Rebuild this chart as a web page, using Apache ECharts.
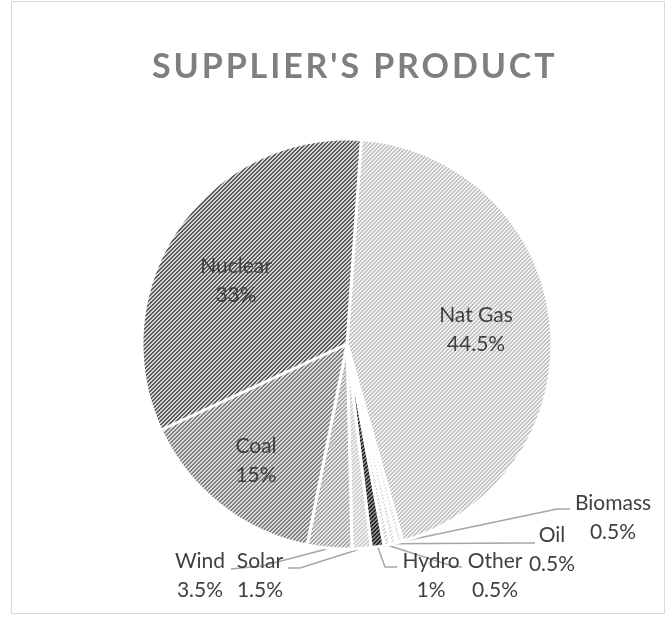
<!DOCTYPE html>
<html><head><meta charset="utf-8">
<script src="https://cdn.jsdelivr.net/npm/echarts@6/dist/echarts.min.js"></script>
<style>html,body{margin:0;padding:0;background:#fff}#c{width:670px;height:621px}</style>
</head><body><div id="c"></div>
<script>
// ---- data ----
const categories = ['Nat Gas', 'Biomass', 'Oil', 'Other', 'Hydro', 'Solar', 'Wind', 'Coal', 'Nuclear'];
const shares = [44.5, 0.5, 0.5, 0.5, 1, 1.5, 3.5, 15, 33];
const titleText = "SUPPLIER'S PRODUCT";

// ---- styles ----
const patternColors = { // [background, stripe]
  'Nat Gas': ['#f3f3f3', '#c2c2c2'],
  'Biomass': ['#ffffff', '#e2e2e2'],
  'Oil':     ['#ffffff', '#dadada'],
  'Other':   ['#ffffff', '#d0d0d0'],
  'Hydro':   ['#8a8a8a', '#262626'],
  'Solar':   ['#f0f0f0', '#cfcfcf'],
  'Wind':    ['#e6e6e6', '#a8a8a8'],
  'Coal':    ['#dcdcdc', '#7f7f7f'],
  'Nuclear': ['#d6d6d6', '#5a5a5a']
};
const insideNames = ['Nat Gas', 'Coal', 'Nuclear'];
const labelSpots = {
  'Nat Gas': { x: 476, y: 330 },
  'Nuclear': { x: 236, y: 281 },
  'Coal':    { x: 256, y: 461 },
  'Biomass': { x: 613, y: 518, line: [[557, 509], [570, 509]] },
  'Oil':     { x: 552, y: 550, line: [[520, 543], [535, 543]] },
  'Other':   { x: 495, y: 576, line: [[452, 566], [462, 567]] },
  'Hydro':   { x: 431, y: 576, line: [[385, 567], [397, 567]] },
  'Solar':   { x: 260, y: 576, line: [[300, 568], [288, 568]] },
  'Wind':    { x: 200, y: 576, line: [[262, 566], [231, 569]] }
};
const TITLE_SPACING = '2.9px';

// letter spacing for the title text only
(function () {
  const P = CanvasRenderingContext2D.prototype;
  if (!('letterSpacing' in P)) return;
  const orig = P.fillText;
  P.fillText = function (t) {
    if (t === titleText) {
      const old = this.letterSpacing;
      this.letterSpacing = TITLE_SPACING;
      const r = orig.apply(this, arguments);
      this.letterSpacing = old;
      return r;
    }
    return orig.apply(this, arguments);
  };
})();

function makePattern(bg, fg) {
  const c = document.createElement('canvas');
  c.width = 8; c.height = 8;
  const ctx = c.getContext('2d');
  ctx.fillStyle = bg; ctx.fillRect(0, 0, 8, 8);
  ctx.fillStyle = fg;
  for (let y = 0; y < 8; y++) for (let x = 0; x < 8; x++) {
    if ((x + y) % 4 < 2) ctx.fillRect(x, y, 1, 1);
  }
  return { image: c, repeat: 'repeat' };
}

const pieData = categories.map((name, i) => {
  const inside = insideNames.indexOf(name) >= 0;
  return {
    name: name,
    value: shares[i],
    itemStyle: { color: makePattern(patternColors[name][0], patternColors[name][1]) },
    label: { position: inside ? 'inside' : 'outside' },
    labelLine: { show: !inside }
  };
});

const chart = echarts.init(document.getElementById('c'), null, { renderer: 'canvas' });
chart.setOption({
  animation: false,
  backgroundColor: '#ffffff',
  title: {
    text: titleText,
    left: 147,
    top: 45,
    textStyle: { fontFamily: 'Lato', fontWeight: 'bold', fontSize: 34, color: '#7f7f7f' }
  },
  graphic: [{
    type: 'rect', silent: true, z: -10,
    shape: { x: 11.5, y: 1.5, width: 653, height: 612 },
    style: { fill: null, stroke: '#d9d9d9', lineWidth: 1 }
  }],
  series: [{
    type: 'pie',
    center: [347, 344],
    radius: 205,
    startAngle: 86,
    clockwise: true,
    avoidLabelOverlap: false,
    emphasis: { disabled: true },
    itemStyle: { borderColor: '#ffffff', borderWidth: 3 },
    label: {
      show: true,
      formatter: p => p.name + '\n' + p.value + '%',
      fontFamily: 'Lato', fontSize: 21, lineHeight: 29, color: '#404040'
    },
    labelLine: { show: true, smooth: false, lineStyle: { color: '#a6a6a6', width: 1.5 } },
    labelLayout: function (p) {
      const s = labelSpots[categories[p.dataIndex]];
      const o = { x: s.x, y: s.y, align: 'center', verticalAlign: 'middle' };
      if (s.line && p.labelLinePoints) {
        o.labelLinePoints = [p.labelLinePoints[0], s.line[0], s.line[1]];
      }
      return o;
    },
    data: pieData
  }]
});
</script>
</body></html>
